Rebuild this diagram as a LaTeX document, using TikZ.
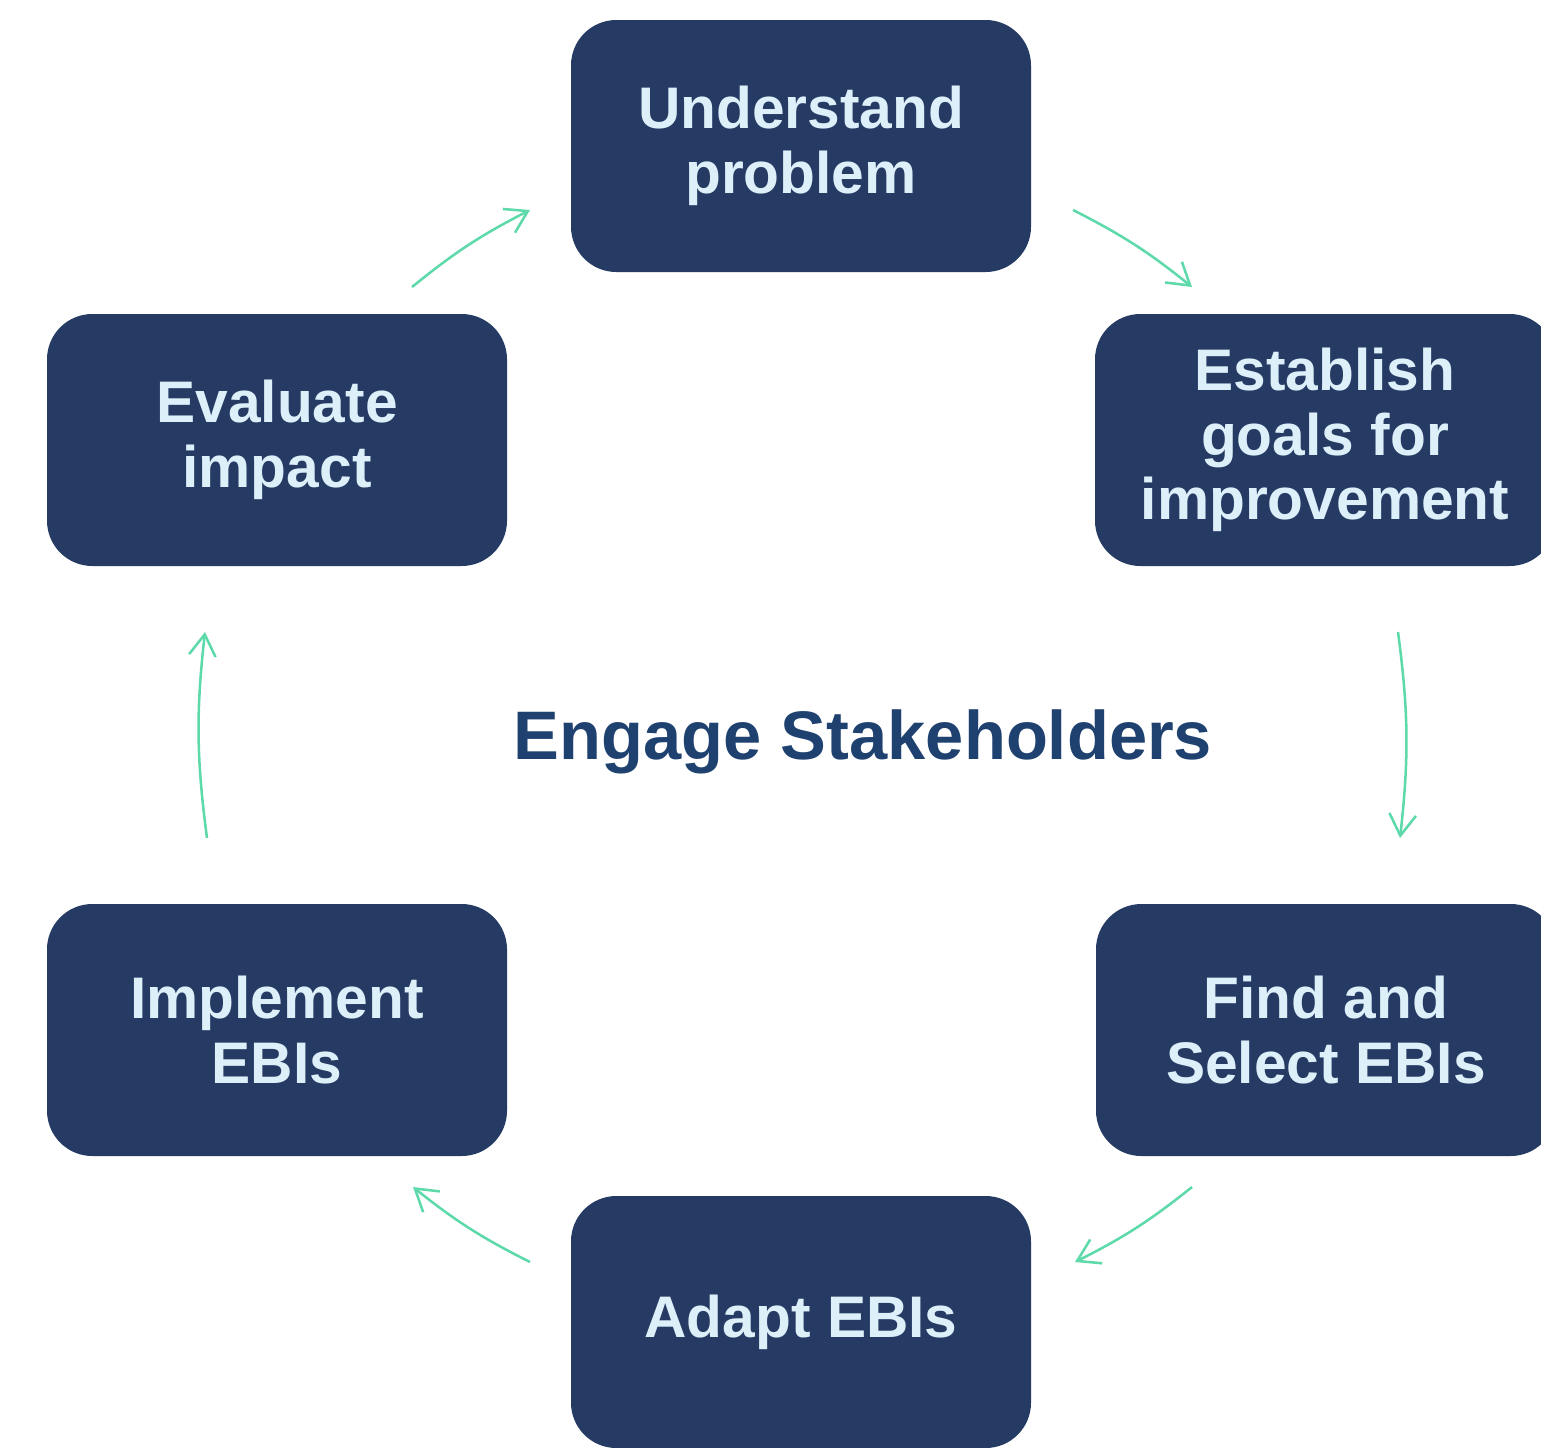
\documentclass[tikz,border=0pt]{standalone}
\usepackage{fontspec}
\setmainfont{Liberation Sans}
\usepackage{tikz}
\usetikzlibrary{arrows.meta}

\definecolor{boxblue}{RGB}{37,59,100}
\definecolor{boxtext}{RGB}{221,239,249}
\definecolor{hubblue}{RGB}{30,65,112}
\definecolor{loopgreen}{RGB}{94,217,170}

\tikzset{
  stage/.style={fill=boxblue, draw=none, rounded corners=34pt, minimum width=345pt, minimum height=189pt,
    text=boxtext, align=center, inner sep=0pt,
    font={\fontsize{44}{48.5}\selectfont\bfseries}},
  loop/.style={draw=loopgreen, line width=1.9pt, -{Straight Barb[length=16pt,width=20pt,line width=1.9pt]}, bend right=6}
}

\begin{document}
\begin{tikzpicture}[x=0.75pt,y=0.75pt,yscale=-1,xscale=1]
\useasboundingbox (0,0) rectangle (1541,1447);

%Stages
\node [stage] (understand) at (801,146) {Understand\\problem};
\node [stage] (goals) at (1325,440) {Establish\\goals for\\improvement};
\node [stage] (select) at (1326,1030) {Find and\\Select EBIs};
\node [stage] (adapt) at (801,1322) {Adapt EBIs};
\node [stage] (implement) at (277,1030) {Implement\\EBIs};
\node [stage] (evaluate) at (277,440) {Evaluate\\impact};

% Text Node
\node [text=hubblue, font={\fontsize{51.5}{56}\selectfont\bfseries}] (engage) at (863,742) {Engage Stakeholders};

%Arrow ends
\coordinate (a1) at (412,287);  \coordinate (b1) at (530,210);
\coordinate (a2) at (1073,210); \coordinate (b2) at (1192,287);
\coordinate (a3) at (1398,632); \coordinate (b3) at (1400,838);
\coordinate (a4) at (1192,1187); \coordinate (b4) at (1075,1262);
\coordinate (a5) at (530,1262); \coordinate (b5) at (413,1187);
\coordinate (a6) at (207,838);  \coordinate (b6) at (205,632);

%Curve Lines
\draw [loop] (a1) to (b1);
\draw [loop] (a2) to (b2);
\draw [loop, bend right=7] (a3) to (b3);
\draw [loop] (a4) to (b4);
\draw [loop] (a5) to (b5);
\draw [loop, bend right=7] (a6) to (b6);

\end{tikzpicture}
\end{document}
